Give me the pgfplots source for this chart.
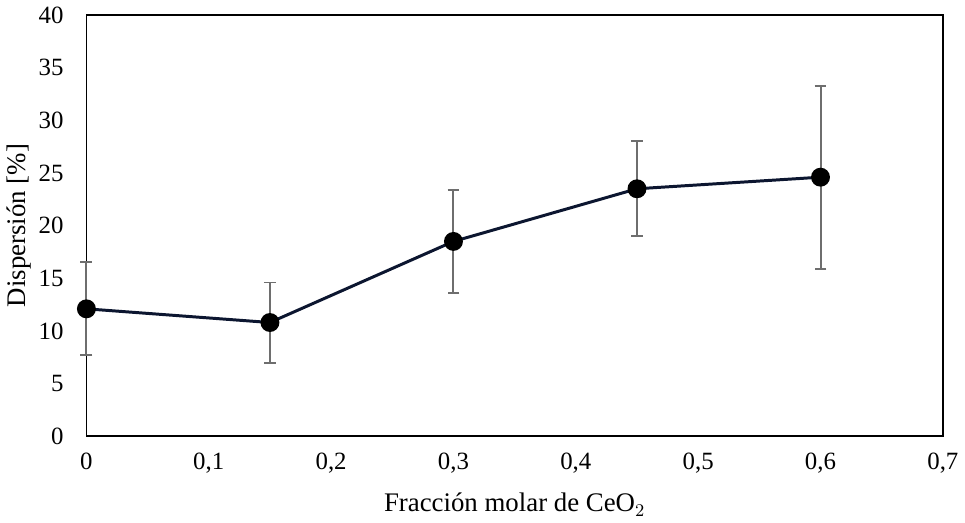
\documentclass[border=0pt]{standalone}
\usepackage{fontspec}
\setmainfont{Liberation Serif}
\usepackage{pgfplots}
\pgfplotsset{compat=1.18}
\definecolor{serie}{RGB}{12,22,48}
\definecolor{barra}{RGB}{110,110,110}
\begin{document}
\begin{tikzpicture}
\begin{axis}[
    scale only axis,
    width=431pt,
    height=212pt,
    xmin=0, xmax=0.7,
    ymin=0, ymax=40,
    xtick={0,0.1,0.2,0.3,0.4,0.5,0.6,0.7},
    ytick={0,5,10,15,20,25,30,35,40},
    major tick length=0pt,
    axis line style={black, line width=0.9pt},
    /pgf/number format/assume math mode=true,
    xticklabel={\pgfmathprintnumber[fixed,precision=1,use comma]{\tick}},
    yticklabel={\pgfmathprintnumber[fixed,precision=0]{\tick}},
    tick label style={font=\fontsize{12.5}{14}\selectfont},
    xticklabel style={yshift=-5pt},
    yticklabel style={xshift=-8pt},
    xlabel={Fracción molar de CeO$_2$},
    ylabel={Dispersión [\%]},
    label style={font=\fontsize{13.5}{15}\selectfont},
    xlabel style={yshift=-3pt},
    ylabel style={yshift=-3pt},
    clip=false,
]
\addplot[draw=none, mark=none,
    error bars/.cd, y dir=both, y explicit,
    error bar style={barra, line width=1pt},
    error mark options={barra, line width=1pt, rotate=90, mark size=3pt}]
coordinates {
    (0,12.1)    += (0,4.4) -= (0,4.4)
    (0.15,10.8) += (0,3.8) -= (0,3.8)
    (0.3,18.5)  += (0,4.9) -= (0,4.9)
    (0.45,23.5) += (0,4.5) -= (0,4.5)
    (0.6,24.6)  += (0,8.7) -= (0,8.7)
};
\addplot[serie, line width=1.5pt, mark=*, mark size=4pt,
    mark options={fill=black, draw=black}]
coordinates {
    (0,12.1) (0.15,10.8) (0.3,18.5) (0.45,23.5) (0.6,24.6)
};
\end{axis}
\end{tikzpicture}
\end{document}
